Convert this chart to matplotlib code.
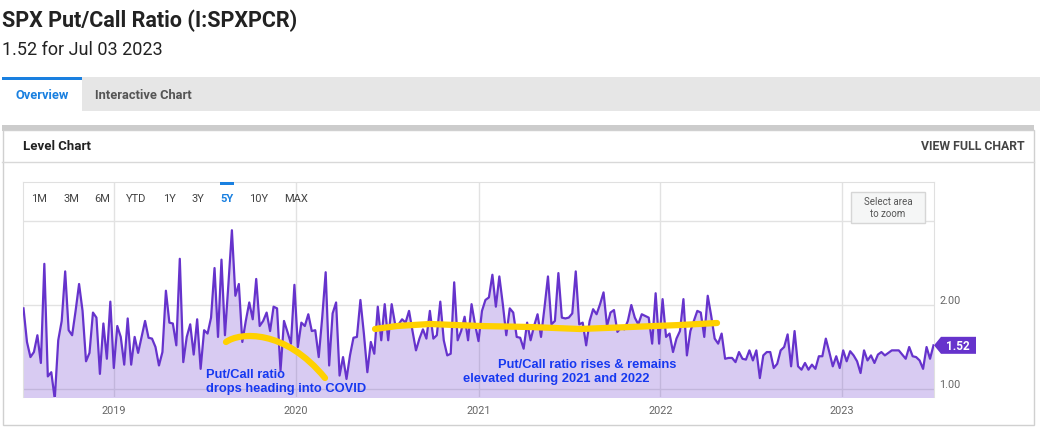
import numpy as np
import pandas as pd
import matplotlib
matplotlib.use("Agg")
import matplotlib.pyplot as plt
import matplotlib.dates as mdates
from matplotlib.patches import Rectangle, Polygon, PathPatch
from matplotlib.path import Path

# ---------------- data ----------------
title = "SPX Put/Call Ratio (I:SPXPCR)"
subtitle = "1.52 for Jul 03 2023"
first_date = "2018-07-03"
last_date = "2023-07-03"

pcr_values = [
    # mid 2018 - early 2019
    1.96, 1.56, 1.38, 1.44, 1.64, 1.31, 2.49, 1.15, 1.20, 0.88, 1.58, 1.81, 2.40, 1.70, 1.64, 1.93, 2.25,
    1.93, 1.33, 1.43, 1.91, 1.85, 1.18, 1.78, 1.36, 2.04, 1.25, 1.75, 1.62, 1.29, 1.84, 1.29, 1.62, 1.43,
    # 2019
    1.62, 1.81, 1.61, 1.60, 1.50, 1.28, 1.44, 2.17, 1.79, 1.78, 1.52, 2.55, 1.32, 1.62, 1.77, 1.41, 1.83,
    1.24, 1.70, 1.66, 1.85, 2.44, 1.62, 2.54, 1.64, 2.25, 2.89, 2.11, 2.25, 1.56, 1.81, 2.03, 1.83,
    # late 2019 - 2020
    2.31, 1.75, 1.81, 1.91, 1.69, 1.98, 1.96, 1.22, 1.81, 1.68, 1.54, 2.24, 1.50, 1.79, 1.75, 1.89, 1.69,
    1.70, 1.38, 1.85, 2.39, 1.28, 1.90, 2.03, 1.16, 1.38, 1.12, 1.40, 1.61, 1.62, 2.06, 1.66, 1.20,
    # 2020 - early 2021
    1.56, 1.42, 1.98, 1.58, 2.01, 1.58, 2.01, 1.77, 1.77, 1.83, 1.79, 1.93, 1.69, 1.46, 1.60, 1.71, 1.60,
    1.93, 1.60, 1.64, 2.04, 1.58, 1.40, 1.42, 2.27, 1.58, 1.69, 1.86, 1.58, 2.01, 1.77, 1.57, 1.93,
    # 2021
    2.06, 2.09, 2.36, 1.98, 2.34, 2.01, 1.64, 1.96, 1.91, 1.62, 1.61, 1.48, 1.79, 1.58, 1.75, 1.89,
    1.62, 1.97, 2.34, 1.77, 1.81, 2.38, 1.85, 1.84, 1.85, 1.90, 2.40, 1.77, 1.79, 1.52, 1.81, 1.95,
    # late 2021 - 2022
    1.89, 2.01, 2.15, 1.75, 1.91, 1.94, 1.68, 1.73, 1.71, 1.81, 2.00, 1.85, 1.77, 1.89, 1.87, 1.85, 1.54,
    2.14, 1.54, 2.07, 1.62, 1.66, 1.44, 1.60, 1.69, 2.07, 1.40, 1.69, 1.81, 1.93, 1.91, 1.62, 2.11,
    # 2022
    1.87, 1.60, 1.54, 1.66, 1.36, 1.37, 1.37, 1.32, 1.44, 1.36, 1.35, 1.46, 1.34, 1.46, 1.13, 1.40, 1.44,
    1.44, 1.25, 1.30, 1.46, 1.50, 1.65, 1.27, 1.69, 1.27, 1.23, 1.31, 1.23, 1.29, 1.24, 1.39, 1.39,
    # late 2022 - 2023
    1.60, 1.44, 1.27, 1.39, 1.25, 1.46, 1.33, 1.45, 1.40, 1.33, 1.19, 1.46, 1.34, 1.40, 1.31, 1.41,
    1.44, 1.40, 1.43, 1.46, 1.46, 1.46, 1.41, 1.36, 1.50, 1.39, 1.38, 1.34, 1.24, 1.50, 1.36, 1.52,
]

year_ticks = ["2019-01-01", "2020-01-01", "2021-01-01", "2022-01-01", "2023-01-01"]
year_labels = ["2019", "2020", "2021", "2022", "2023"]
y_grid = [1.0, 2.0, 3.0]
y_grid_labels = ["1.00", "2.00", ""]
range_buttons = ["1M", "3M", "6M", "YTD", "1Y", "3Y", "5Y", "10Y", "MAX"]
active_button = "5Y"
note_covid = ["Put/Call ratio", "drops heading into COVID"]
note_elevated = ["Put/Call ratio rises & remains", "elevated during 2021 and 2022"]

# ---------------- style ----------------
PURPLE = "#6633cc"
YELLOW = "#ffd100"
NOTE_BLUE = "#1638f0"
TAB_BLUE = "#1a80e0"
UI_FONT = ["Roboto", "DejaVu Sans"]
NOTE_FONT = ["Liberation Sans", "DejaVu Sans"]

W, H = 1040, 431
fig = plt.figure(figsize=(W / 100, H / 100), dpi=100, facecolor="white")

# background layer in pixel coordinates (y down)
bg = fig.add_axes([0, 0, 1, 1], zorder=0)
bg.set_xlim(0, W)
bg.set_ylim(H, 0)
bg.axis("off")

bg.text(2, 27, title, fontsize=15.5, fontweight="bold", family=UI_FONT, color="#222222", va="baseline")
bg.text(2, 55, subtitle, fontsize=13, family=UI_FONT, color="#222222", va="baseline")

# tab bar
bg.add_patch(Rectangle((2, 78), W - 2, 34, facecolor="#e6e6e6", edgecolor="none"))
bg.add_patch(Rectangle((2, 78), 80, 34, facecolor="white", edgecolor="none"))
bg.add_patch(Rectangle((2, 78), 80, 3, facecolor=TAB_BLUE, edgecolor="none"))
bg.text(42, 96, "Overview", fontsize=9.3, fontweight="bold", family=UI_FONT, color=TAB_BLUE,
        ha="center", va="center")
bg.text(95, 96, "Interactive Chart", fontsize=9.3, fontweight="bold", family=UI_FONT, color="#555555",
        ha="left", va="center")

# chart panel
bg.add_patch(Rectangle((2, 126), 1032, 6, facecolor="#cccccc", edgecolor="none"))
bg.add_patch(Rectangle((2.5, 131), 1031, 295.5, facecolor="none", edgecolor="#d0d0d0", lw=1))
bg.plot([2, 1034], [162.5, 162.5], color="#d8d8d8", lw=1)
bg.text(23, 147, "Level Chart", fontsize=9.5, fontweight="bold", family=UI_FONT, color="#222222",
        ha="left", va="center")
bg.text(1025, 147, "VIEW FULL CHART", fontsize=8.8, fontweight="bold", family=UI_FONT, color="#444444",
        ha="right", va="center")

# ---------------- plot ----------------
L, R, T, B = 23, 934, 183, 398
ax = fig.add_axes([L / W, 1 - B / H, (R - L) / W, (B - T) / H], zorder=1)
ax.set_facecolor("none")

dates = pd.date_range(first_date, last_date, periods=len(pcr_values))
ax.fill_between(dates, pcr_values, 0, color=PURPLE, alpha=0.25, lw=0, zorder=2)
ax.plot(dates, pcr_values, color=PURPLE, lw=1.6, solid_joinstyle="round", zorder=3)

ax.set_xlim(pd.Timestamp("2018-07-02"), pd.Timestamp("2023-07-04"))
ax.set_ylim(0.905, 3.464)

ax.set_xticks(pd.to_datetime(year_ticks))
ax.set_xticklabels(year_labels)
ax.yaxis.tick_right()
ax.set_yticks(y_grid)
ax.set_yticklabels(y_grid_labels)
ax.grid(True, color="#e2e2e2", lw=1)
ax.set_axisbelow(True)
ax.tick_params(length=0, labelsize=7.8, labelcolor="#666666")
ax.tick_params(axis="x", pad=6)
ax.tick_params(axis="y", pad=4)
for lab in ax.get_xticklabels() + ax.get_yticklabels():
    lab.set_family(UI_FONT)
for lab in ax.get_yticklabels():
    lab.set_va("bottom")
for s in ["top", "left", "right"]:
    ax.spines[s].set_color("#e0e0e0")
ax.spines["bottom"].set_visible(False)

# ---------------- overlay ----------------
ov = fig.add_axes([0, 0, 1, 1], zorder=3)
ov.set_xlim(0, W)
ov.set_ylim(H, 0)
ov.axis("off")
ov.patch.set_visible(False)

# range selector buttons
button_x = [39, 71, 102, 136, 169, 198, 227, 259, 296]
for label, bx in zip(range_buttons, button_x):
    active = label == active_button
    ov.text(bx, 199, label, fontsize=8, family=UI_FONT, ha="center", va="center",
            color=TAB_BLUE if active else "#444444", fontweight="bold" if active else "normal")
    if active:
        ov.add_patch(Rectangle((bx - 7, 183), 14, 3, facecolor=TAB_BLUE, edgecolor="none"))

# select-area hint box
ov.add_patch(Rectangle((851, 193), 74, 31, facecolor="#f5f6f6", edgecolor="#d6d6d6", lw=1))
ov.text(888, 202, "Select area", fontsize=7, family=UI_FONT, color="#555555", ha="center", va="center")
ov.text(888, 214, "to zoom", fontsize=7, family=UI_FONT, color="#555555", ha="center", va="center")

# hand-drawn yellow annotation strokes
curve1 = Path([(226, 343), (240, 333), (285, 330), (325, 379)],
              [Path.MOVETO, Path.CURVE4, Path.CURVE4, Path.CURVE4])
ov.add_patch(PathPatch(curve1, fill=False, edgecolor=YELLOW, lw=4.5, capstyle="round"))
stroke2_x = [375, 397, 430, 480, 530, 580, 630, 680, 717]
stroke2_y = [330, 327, 325, 327, 328, 330, 328, 326, 324]
ov.plot(stroke2_x, stroke2_y, color=YELLOW, lw=4.5, solid_capstyle="round", solid_joinstyle="round")

# annotation notes
ov.text(206, 375, note_covid[0], fontsize=9.3, fontweight="bold", family=NOTE_FONT, color=NOTE_BLUE,
        ha="left", va="center")
ov.text(206, 389, note_covid[1], fontsize=9.3, fontweight="bold", family=NOTE_FONT, color=NOTE_BLUE,
        ha="left", va="center")
ov.text(498, 365, note_elevated[0], fontsize=9.3, fontweight="bold", family=NOTE_FONT, color=NOTE_BLUE,
        ha="left", va="center")
ov.text(463, 379, note_elevated[1], fontsize=9.3, fontweight="bold", family=NOTE_FONT, color=NOTE_BLUE,
        ha="left", va="center")

# last-value tag
disp = ax.transData.transform((mdates.date2num(dates[-1]), pcr_values[-1]))
ty = H - disp[1]
tx = R
ov.add_patch(Polygon([(tx, ty), (tx + 7, ty - 8.5), (tx + 42, ty - 8.5), (tx + 42, ty + 8.5),
                      (tx + 7, ty + 8.5)], closed=True, facecolor=PURPLE, edgecolor="none"))
ov.text(tx + 24, ty, f"{pcr_values[-1]:.2f}", fontsize=8.5, fontweight="bold", family=UI_FONT,
        color="white", ha="center", va="center")

fig.savefig("out.png", dpi=100, facecolor="white")
